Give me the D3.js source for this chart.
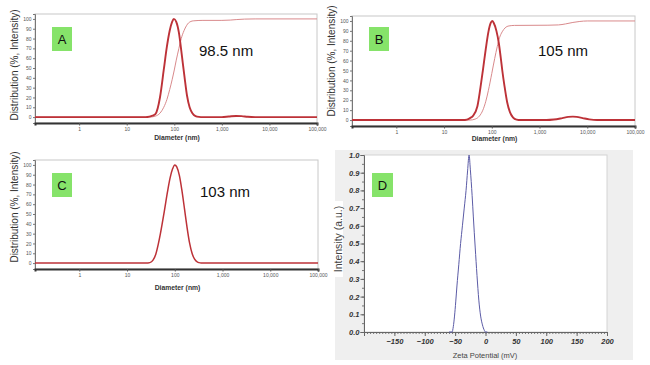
<!DOCTYPE html>
<html><head><meta charset="utf-8">
<script src="https://cdn.jsdelivr.net/npm/d3@7"></script>
<style>
html,body{margin:0;padding:0;background:#fff;}
svg{display:block;font-family:"Liberation Sans",Arial,sans-serif;}
</style></head>
<body>
<svg id="chart" width="650" height="365"></svg>
<script>
// ---------- data ----------
const diamTicks = [1, 10, 100, 1000, 10000, 100000];
const diamTickLabels = ["1", "10", "100", "1,000", "10,000", "100,000"];
const pctTicks = [0, 10, 20, 30, 40, 50, 60, 70, 80, 90, 100];

// Panel A (98.5 nm)
const aPeakD = [0.118, 10, 25, 30, 35, 40, 50, 60, 70, 80, 90, 98, 110, 125, 140, 150, 165, 185, 210, 240, 280, 330, 400, 1000, 1400, 2000, 2600, 3500, 5000, 100000];
const aPeakY = [0, 0, 0, 0.5, 1.5, 3, 20, 48, 72, 88, 97, 100, 97, 86, 68, 56, 40, 22, 10, 4, 1, 0.2, 0, 0, 0.6, 1.2, 1, 0.3, 0, 0];
const aCumD = [0.118, 30, 40, 50, 60, 70, 80, 90, 100, 110, 125, 140, 160, 180, 200, 250, 400, 1000, 1500, 2000, 3000, 5000, 100000];
const aCumY = [0, 0, 1, 4, 10, 18, 28, 38, 48, 58, 70, 80, 88, 93, 96, 98, 98.5, 98.5, 98.8, 99.3, 99.8, 100, 100];

// Panel B (105 nm)
const bPeakD = [0.118, 10, 25, 30, 35, 40, 50, 60, 65, 75, 85, 95, 102, 110, 125, 140, 155, 166, 185, 210, 240, 280, 330, 400, 1400, 2000, 3000, 4000, 5000, 6000, 8000, 11000, 16000, 100000];
const bPeakY = [0, 0, 0, 0.5, 2, 4, 14, 38, 50, 72, 89, 98, 100, 98, 90, 78, 62, 50, 34, 18, 8, 2.5, 0.5, 0, 0, 0.5, 2, 3.2, 3.5, 3.2, 2, 0.7, 0, 0];
const bCumD = [0.118, 35, 45, 55, 65, 75, 85, 100, 115, 130, 145, 165, 190, 230, 300, 1500, 2500, 3500, 5000, 7000, 10000, 100000];
const bCumY = [0, 0, 1, 4, 10, 19, 30, 47, 62, 74, 83, 89, 93, 95, 95.5, 95.7, 96, 97, 98.5, 99.5, 100, 100];

// Panel C (103 nm)
const cPeakD = [0.118, 10, 25, 30, 35, 40, 45, 50, 60, 70, 80, 90, 100, 110, 125, 140, 160, 180, 205, 230, 260, 300, 350, 400, 100000];
const cPeakY = [0, 0, 0, 0.5, 3, 9, 19, 30, 52, 72, 87, 96, 100, 98, 89, 75, 55, 37, 20, 10, 4, 1, 0.2, 0, 0];

// Panel D (zeta potential)
const zetaTicks = [-150, -100, -50, 0, 50, 100, 150, 200];
const intensityTicks = [0, 0.1, 0.2, 0.3, 0.4, 0.5, 0.6, 0.7, 0.8, 0.9, 1.0];
const zetaX = [-60, -55, -53, -51, -49, -47, -44, -41, -38, -35, -32, -29.5, -27, -25, -22, -20, -17, -14, -11, -8, -5, -2, 0, 3];
const zetaY = [0, 0, 0.03, 0.09, 0.17, 0.26, 0.38, 0.5, 0.6, 0.7, 0.8, 0.91, 1.0, 0.92, 0.77, 0.65, 0.48, 0.32, 0.18, 0.09, 0.04, 0.01, 0, 0];

// ---------- drawing ----------
const svg = d3.select("#chart");
const thickRed = "#bd3238", thinRed = "#d98a8c";
const greenBox = "#86e36a";

function dlsPanel(o) {
  const g = svg.append("g");
  const x = d3.scaleLog().domain([0.118, 100000]).range([o.x0, o.x1]);
  const y = d3.scaleLinear().domain([-6, 105]).range([o.y1, o.y0]);
  g.append("rect").attr("x", o.x0).attr("y", o.y0).attr("width", o.x1 - o.x0).attr("height", o.y1 - o.y0)
    .attr("fill", "#fff").attr("stroke", "#c8c8c8").attr("stroke-width", 1);
  const ya = g.append("g").attr("transform", `translate(${o.x0},0)`)
    .call(d3.axisLeft(y).tickValues(pctTicks).tickSize(2).tickPadding(1.5));
  ya.select(".domain").attr("stroke", "#777");
  ya.selectAll(".tick line").attr("stroke", "#777");
  ya.selectAll("text").attr("font-size", 5).attr("fill", "#555").attr("font-family", "Liberation Sans, Arial, sans-serif");
  const xa = g.append("g").attr("transform", `translate(0,${o.y1})`)
    .call(d3.axisBottom(x).tickValues(diamTicks).tickFormat((d, i) => diamTickLabels[i]).tickSize(2.5).tickPadding(2));
  xa.select(".domain").attr("stroke", "#333").attr("stroke-width", 2);
  xa.selectAll(".tick line").attr("stroke", "#555");
  xa.selectAll("text").attr("font-size", 5).attr("fill", "#555").attr("font-family", "Liberation Sans, Arial, sans-serif");
  const line = d3.line().x(d => x(d[0])).y(d => y(d[1])).curve(d3.curveMonotoneX);
  if (o.cumD) {
    g.append("path").datum(o.cumD.map((d, i) => [d, o.cumY[i]]))
      .attr("d", line).attr("fill", "none").attr("stroke", thinRed).attr("stroke-width", 1);
  }
  g.append("path").datum(o.peakD.map((d, i) => [d, o.peakY[i]]))
    .attr("d", line).attr("fill", "none").attr("stroke", thickRed).attr("stroke-width", o.peakW);
  g.append("text").attr("x", (o.x0 + o.x1) / 2 + 1).attr("y", o.xTitleY).attr("text-anchor", "middle")
    .attr("dominant-baseline", "central").attr("font-size", 6.8).attr("font-weight", "bold").attr("fill", "#333")
    .text("Diameter (nm)");
  g.append("text").attr("transform", `translate(${o.yTitleX},${o.yTitleY}) rotate(-90)`).attr("text-anchor", "middle")
    .attr("dominant-baseline", "central").attr("font-size", 10).attr("fill", "#333")
    .text("Distribution (%, Intensity)");
  g.append("rect").attr("x", o.boxX).attr("y", o.boxY).attr("width", 20).attr("height", 24).attr("fill", greenBox);
  g.append("text").attr("x", o.boxX + 10).attr("y", o.boxY + 12).attr("text-anchor", "middle")
    .attr("dominant-baseline", "central").attr("font-size", 13).attr("fill", "#111").text(o.letter);
  g.append("text").attr("x", o.sizeX).attr("y", o.sizeY).attr("font-size", 15).attr("fill", "#111").text(o.sizeText);
}

dlsPanel({x0: 35, x1: 317, y0: 14, y1: 123, peakD: aPeakD, peakY: aPeakY, cumD: aCumD, cumY: aCumY, peakW: 1.9,
  xTitleY: 137, yTitleX: 14, yTitleY: 65, boxX: 52, boxY: 27, letter: "A", sizeX: 199, sizeY: 56, sizeText: "98.5 nm"});
dlsPanel({x0: 352, x1: 635, y0: 16, y1: 126, peakD: bPeakD, peakY: bPeakY, cumD: bCumD, cumY: bCumY, peakW: 1.9,
  xTitleY: 138, yTitleX: 331, yTitleY: 61, boxX: 369, boxY: 27, letter: "B", sizeX: 538, sizeY: 56, sizeText: "105 nm"});
dlsPanel({x0: 35, x1: 318, y0: 160, y1: 269, peakD: cPeakD, peakY: cPeakY, peakW: 1.5,
  xTitleY: 287, yTitleX: 14, yTitleY: 207, boxX: 52, boxY: 173, letter: "C", sizeX: 200, sizeY: 197, sizeText: "103 nm"});

// Panel D
(function () {
  const g = svg.append("g");
  const x0 = 364, x1 = 607, y0 = 155, y1 = 332;
  g.append("rect").attr("x", 335).attr("y", 150).attr("width", 298).attr("height", 210).attr("fill", "#efefef");
  g.append("rect").attr("x", x0).attr("y", y0).attr("width", x1 - x0).attr("height", y1 - y0)
    .attr("fill", "#fff").attr("stroke", "#d4d4d4").attr("stroke-width", 1);
  const x = d3.scaleLinear().domain([-200, 200]).range([x0, x1]);
  const y = d3.scaleLinear().domain([0, 1]).range([y1, y0]);
  const xa2 = g.append("g").attr("transform", `translate(0,${y1})`)
    .call(d3.axisBottom(x).tickValues(d3.range(-200, 201, 5)).tickSize(2).tickFormat(""));
  xa2.select(".domain").remove();
  xa2.selectAll(".tick line").attr("stroke", "#777");
  const xa = g.append("g").attr("transform", `translate(0,${y1})`)
    .call(d3.axisBottom(x).tickValues(zetaTicks).tickSize(4).tickPadding(2.5));
  xa.select(".domain").attr("stroke", "#666");
  xa.selectAll(".tick line").attr("stroke", "#666");
  xa.selectAll("text").attr("font-size", 7.5).attr("font-weight", "bold").attr("font-style", "italic")
    .attr("fill", "#333").attr("font-family", "Liberation Sans, Arial, sans-serif");
  const ya2 = g.append("g").attr("transform", `translate(${x0},0)`)
    .call(d3.axisLeft(y).tickValues(d3.range(0, 1.001, 0.05)).tickSize(2).tickFormat(""));
  ya2.select(".domain").remove();
  ya2.selectAll(".tick line").attr("stroke", "#777");
  const ya = g.append("g").attr("transform", `translate(${x0},0)`)
    .call(d3.axisLeft(y).tickValues(intensityTicks).tickFormat(d3.format(".1f")).tickSize(3.5).tickPadding(1));
  ya.select(".domain").attr("stroke", "#666");
  ya.selectAll(".tick line").attr("stroke", "#666");
  ya.selectAll("text").attr("font-size", 7.5).attr("font-weight", "bold").attr("font-style", "italic")
    .attr("fill", "#333").attr("font-family", "Liberation Sans, Arial, sans-serif");
  const line = d3.line().x(d => x(d[0])).y(d => y(d[1])).curve(d3.curveMonotoneX);
  g.append("path").datum(zetaX.map((d, i) => [d, zetaY[i]]))
    .attr("d", line).attr("fill", "none").attr("stroke", "#5b5ba6").attr("stroke-width", 1);
  g.append("text").attr("x", 485).attr("y", 355).attr("text-anchor", "middle").attr("dominant-baseline", "central")
    .attr("font-size", 7.5).attr("fill", "#444").text("Zeta Potential (mV)");
  g.append("rect").attr("x", 333).attr("y", 201).attr("width", 10).attr("height", 76).attr("fill", "#fff");
  g.append("text").attr("transform", "translate(338,239) rotate(-90)").attr("text-anchor", "middle")
    .attr("dominant-baseline", "central").attr("font-size", 10.5).attr("fill", "#444").text("Intensity (a.u.)");
  g.append("rect").attr("x", 372).attr("y", 173).attr("width", 21).attr("height", 24).attr("fill", greenBox);
  g.append("text").attr("x", 382.5).attr("y", 185).attr("text-anchor", "middle").attr("dominant-baseline", "central")
    .attr("font-size", 13).attr("fill", "#111").text("D");
})();
</script>
</body></html>
